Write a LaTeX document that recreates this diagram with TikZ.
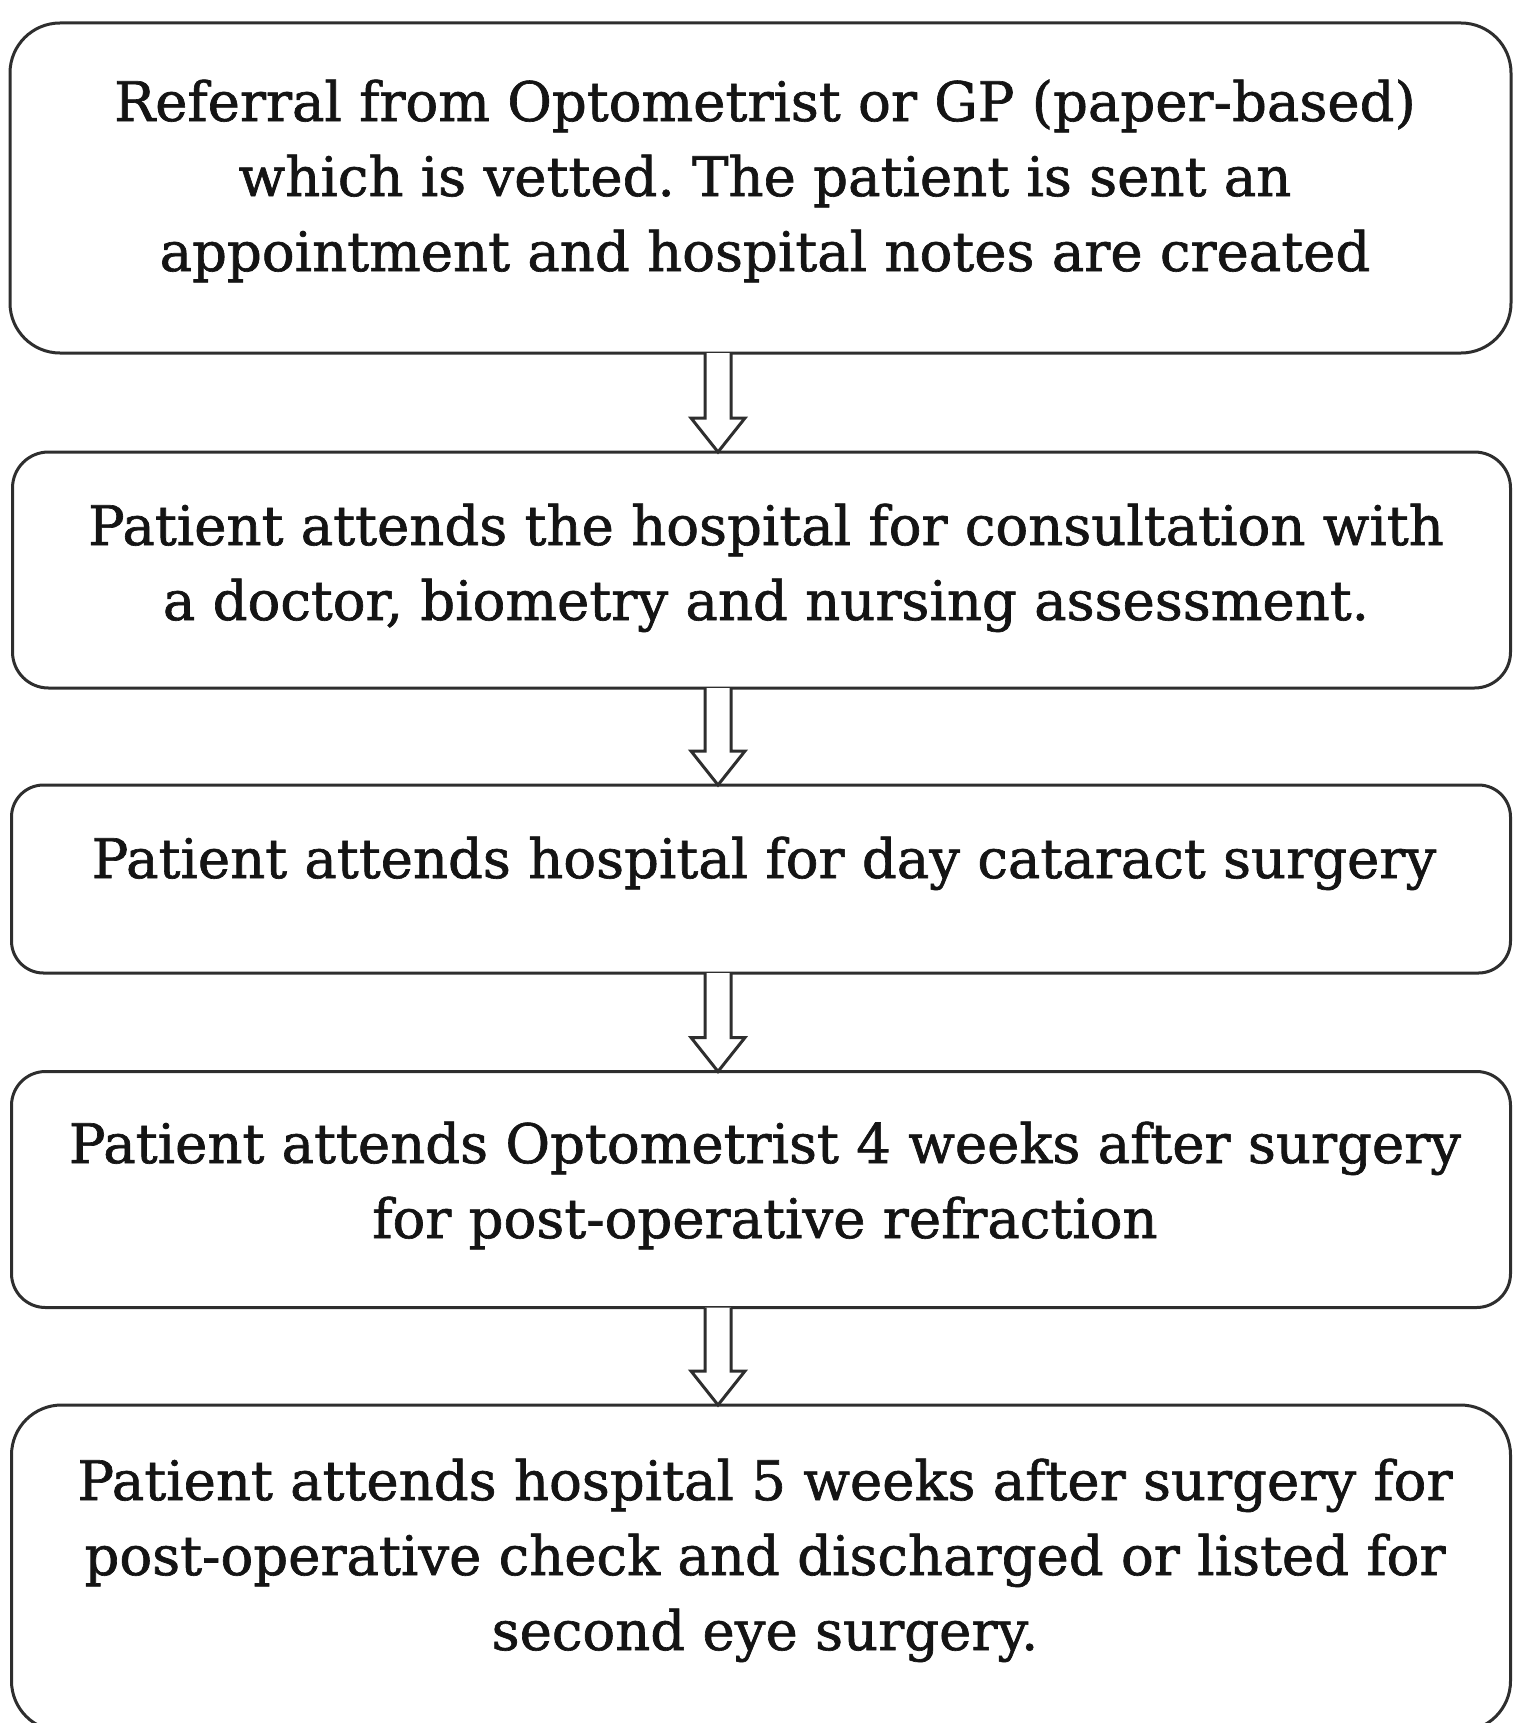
\documentclass[tikz,border=0pt]{standalone}
\usepackage{fontspec}
\setmainfont{DejaVu Serif}
\newfontfamily\boxfont{DejaVu Serif}[FakeBold=1.2]
\usetikzlibrary{calc}
\tikzset{
  stepbox/.style={draw=black!82, line width=3pt, rectangle, inner sep=0pt, outer sep=0pt},
  steptext/.style={align=center, inner sep=0pt, font=\boxfont\frenchspacing\fontsize{54.5}{75}\selectfont, text=black!92},
  blockarrow/.style={draw=black!82, line width=3pt, fill=white, line join=miter},
}
\newcommand{\ls}{\rule[-25pt]{0pt}{75pt}}
\begin{document}
\begin{tikzpicture}[x=1pt,y=-1pt]
\useasboundingbox (0,0) rectangle (1513,1723);
\begin{scope}
\clip (0,0) rectangle (1513,1723);
\node[stepbox, rounded corners=50pt, minimum width=1501pt, minimum height=330pt] (b1) at (760.5,188) {};
\node[stepbox, rounded corners=36pt, minimum width=1498pt, minimum height=236pt] (b2) at (761.5,570) {};
\node[stepbox, rounded corners=32pt, minimum width=1499pt, minimum height=188pt] (b3) at (761,879) {};
\node[stepbox, rounded corners=34pt, minimum width=1499pt, minimum height=236pt] (b4) at (761,1189.5) {};
\node[stepbox, rounded corners=50pt, minimum width=1499pt, minimum height=326pt] (b5) at (761,1568) {};
\end{scope}

\node[steptext] (t1) at (765,183.5) {\ls Referral from Optometrist or GP (paper-based)\\\ls which is vetted. The patient is sent an\\\ls appointment and hospital notes are created};
\node[steptext] (t2) at (766,570) {\ls Patient attends the hospital for consultation with\\\ls a doctor, biometry and nursing assessment.};
\node[steptext] (t3) at (764,865.5) {\ls Patient attends hospital for day cataract surgery};
\node[steptext] (t4) at (765,1188) {\ls Patient attends Optometrist 4 weeks after surgery\\\ls for post-operative refraction};
\node[steptext] (t5) at (765,1562.5) {\ls Patient attends hospital 5 weeks after surgery for\\\ls post-operative check and discharged or listed for\\\ls second eye surgery.};

\coordinate (ax) at (718,0);
\foreach \a/\b in {b1/b2,b2/b3,b3/b4,b4/b5}{
  \draw[blockarrow]
    ($(ax |- \a.south)+(-13,0)$) -- ($(ax |- \b.north)+(-13,-34)$)
    -- ($(ax |- \b.north)+(-27,-34)$) -- (ax |- \b.north)
    -- ($(ax |- \b.north)+(27,-34)$) -- ($(ax |- \b.north)+(13,-34)$)
    -- ($(ax |- \a.south)+(13,0)$);
}
\end{tikzpicture}
\end{document}
